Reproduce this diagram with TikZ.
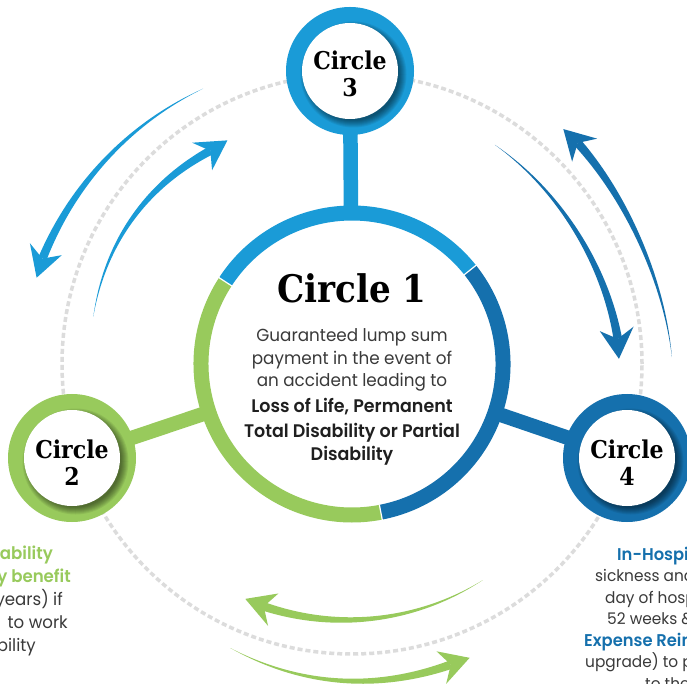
\documentclass[tikz,border=0pt]{standalone}
\usepackage{fontspec}
\setmainfont{Poppins}[FakeStretch=0.96, BoldFont={Poppins SemiBold}]
\newfontfamily\serifb{DejaVu Serif}[FakeStretch=0.9]
\definecolor{lblue}{HTML}{1A9BD7}
\definecolor{dblue}{HTML}{1570AD}
\definecolor{lgreen}{HTML}{98CA5C}
\definecolor{dashgray}{HTML}{DCDCDC}
\definecolor{txt}{HTML}{3A3A3A}
\definecolor{txtb}{HTML}{1F1F1F}
% tapered curved arrow: colour, tail angle, notch angle, tail radius, notch radius, bulge, direction, half width
\newcommand\tarrow[8]{%
  \fill[#1] plot[domain=0:1,samples=60] ({#2+((#3)-(#2))*\x}:{#4+((#5)-(#4))*\x+(#6)*sin(180*\x)+(#8)*\x})
    -- plot[domain=1:0,samples=60] ({#2+((#3)-(#2))*\x}:{#4+((#5)-(#4))*\x+(#6)*sin(180*\x)-(#8)*\x}) -- cycle;
  \fill[#1] (#3:#5) -- ({#3-(#7)*573/(#5)}:{#5+17}) -- ({#3+(#7)*1146/(#5)}:{#5})
    -- ({#3-(#7)*573/(#5)}:{#5-17}) -- cycle;
}
\tikzset{
  ringbar/.style={line width=14.5pt, shorten <=-6pt, shorten >=-6pt},
  smallc/.style={circle, minimum size=128pt, inner sep=0pt},
  lab/.style={font=\serifb\bfseries\fontsize{24.5}{24.5}\selectfont, inner sep=0pt, anchor=base, text=black},
  body/.style={font=\fontsize{17.5}{20}\selectfont, inner sep=0pt, anchor=base, text=txt},
  bodyb/.style={font=\bfseries\fontsize{18.2}{20}\selectfont, inner sep=0pt, anchor=base, text=txtb},
  lside/.style={font=\fontsize{17.3}{20}\selectfont, inner sep=0pt, anchor=base east, text=txt},
  lsideb/.style={lside, font=\bfseries\fontsize{17.3}{20}\selectfont, text=lgreen},
  rside/.style={font=\fontsize{16}{19}\selectfont, inner sep=0pt, anchor=base west, text=txt},
  rsideb/.style={rside, font=\bfseries\fontsize{17}{19}\selectfont, text=dblue},
}
\begin{document}
\begin{tikzpicture}[x=1pt,y=1pt]
\useasboundingbox (0,0) rectangle (687,683);
\fill[white] (0,0) rectangle (687,683);
\begin{scope}
\clip (0,0) rectangle (687,683);
\node[circle, minimum size=317pt, inner sep=0pt] (c1) at (352,319) {};
\node[smallc] (c3) at (350,612) {};
\node[smallc] (c2) at (72,225) {};
\node[smallc] (c4) at (627,225) {};
% dashed orbit
\draw[dashgray, line width=3.5pt, dash pattern=on 5pt off 3pt] (c1.center) circle (290);
% connecting bars
\draw[ringbar, lblue] (c3) -- (c1);
\draw[ringbar, lgreen] (c2) -- (c1);
\draw[ringbar, dblue] (c4) -- (c1);
% main ring
\fill[white] (c1.center) circle (144);
\begin{scope}[shift={(c1.center)}]
\draw[lblue, line width=15pt] (38.5:151) arc[start angle=38.5, end angle=147, radius=151];
\draw[dblue, line width=15pt] (-79:151) arc[start angle=-79, end angle=38.5, radius=151];
\draw[lgreen, line width=15pt] (147:151) arc[start angle=147, end angle=281, radius=151];
\foreach \a in {38.5,147,281} \draw[white, line width=1.2pt] (\a:143) -- (\a:159);
% arrows
\tarrow{lblue}{118.4}{161.2}{313}{327}{0}{1}{4.3}
\tarrow{lblue}{169.7}{123.6}{263}{256}{4}{-1}{4.3}
\tarrow{dblue}{1.25}{44.4}{320}{316}{-5}{1}{4.3}
\tarrow{dblue}{56.9}{5.4}{261.6}{267}{-4}{-1}{4.3}
\tarrow{lgreen}{301.2}{250}{252.6}{258}{0}{-1}{4.3}
\tarrow{lgreen}{246.8}{288.2}{309}{316.5}{4}{1}{4.3}
\end{scope}
% small circles
\foreach \c/\col in {c3/lblue, c2/lgreen, c4/dblue}{
  \fill[\col] (\c) circle (64);
  \foreach \k in {0,...,7} \fill[black, opacity=0.07] (\c) ++(3.5,-3.5) circle ({46+\k});
  \fill[white] (\c) circle (48);
}
% labels of the small circles
\node[lab] (c3a) at (350,613) {Circle};
\node[lab] (c3b) at (350,586) {3};
\node[lab] (c2a) at (72,225) {Circle};
\node[lab] (c2b) at (72,198) {2};
\node[lab] (c4a) at (627,225) {Circle};
\node[lab] (c4b) at (627,198) {4};
% main circle text
\node[font=\serifb\bfseries\fontsize{38}{38}\selectfont, inner sep=0pt, anchor=base] (t0) at (352,380) {Circle 1};
\node[body] (t1) at (352,341) {Guaranteed lump sum};
\node[body] (t2) at (352,318) {payment in the event of};
\node[body] (t3) at (352,296) {an accident leading to};
\node[bodyb] (t4) at (352,270) {Loss of Life, Permanent};
\node[bodyb] (t5) at (352,246) {Total Disability or Partial};
\node[bodyb] (t6) at (352,223) {Disability};
% left text
\node[lsideb] (l1) at (53,124) {ability};
\node[lsideb] (l2) at (71,101) {y benefit};
\node[lside] (l3) at (63,78) {(years) if};
\node[lside] (l4) at (68,55) {to work};
\node[lside] (l5) at (36,32) {bility};
% right text
\node[rsideb] (r1) at (617,123) {In-Hospit};
\node[rside] (r2) at (595,101.5) {sickness and};
\node[rside] (r3) at (605,80) {day of hosp};
\node[rside] (r4) at (607,58.5) {52 weeks \&};
\node[rsideb] (r5) at (584,37) {Expense Reim};
\node[rside] (r6) at (585,15.5) {upgrade) to p};
\node[rside] (r7) at (645,-6) {to the};
\end{scope}
\end{tikzpicture}
\end{document}
